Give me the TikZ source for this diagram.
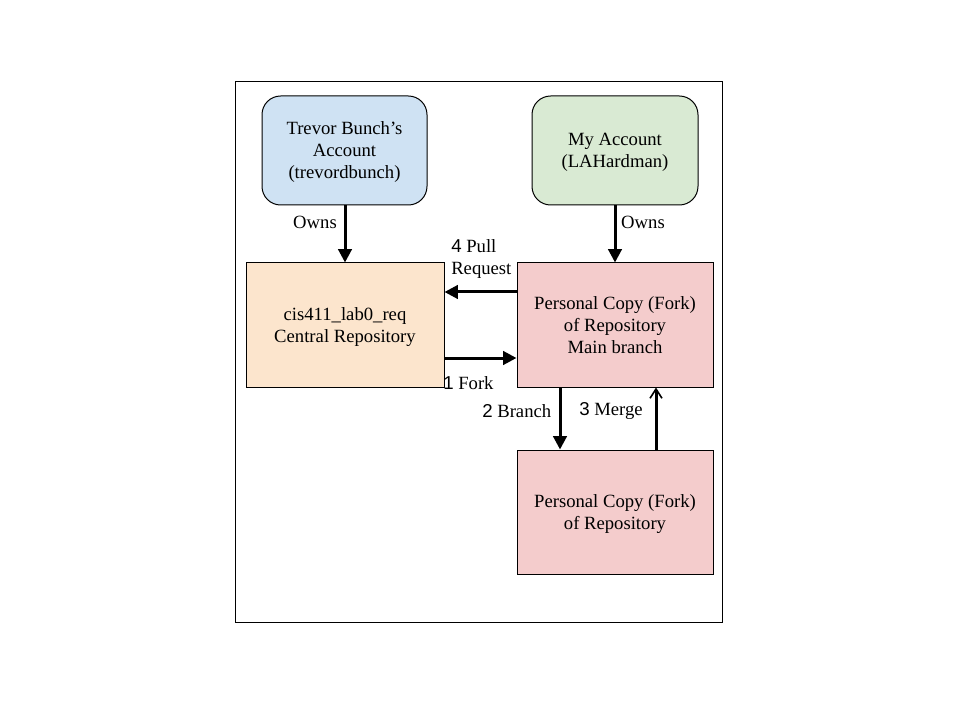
\documentclass[tikz,border=0pt]{standalone}
\usepackage{fontspec}
\setmainfont{Liberation Serif}
\newfontfamily\numfont{Liberation Sans}
\usetikzlibrary{arrows.meta}
\definecolor{cblue}{HTML}{CFE2F3}
\definecolor{cgreen}{HTML}{D9EAD3}
\definecolor{corange}{HTML}{FCE5CD}
\definecolor{cpink}{HTML}{F4CCCC}
\begin{document}
\begin{tikzpicture}[x=0.75pt,y=-0.75pt,
  box/.style={draw=black, line width=0.75pt, align=center, inner sep=0pt,
    font=\fontsize{14pt}{16.5pt}\selectfont},
  lbl/.style={inner sep=0pt, font=\fontsize{14pt}{16.5pt}\selectfont},
  conn/.style={line width=2.25pt, -{Triangle[length=10pt,width=10pt]}},
  connb/.style={line width=2.25pt, -{Straight Barb[length=7pt,width=9pt,line width=1.2pt]}}]
\useasboundingbox (0,0) rectangle (960,720);
\draw[line width=0.75pt] (235,82) rectangle (722,622);
\node[box, fill=cblue, rounded corners=14pt, minimum width=165*0.75pt, minimum height=109*0.75pt, text depth=-1.5pt] (trev) at (344.5,150.5) {Trevor Bunch’s\\Account\\(trevordbunch)};
\node[box, fill=cgreen, rounded corners=14pt, minimum width=166*0.75pt, minimum height=109*0.75pt, text depth=-1.5pt] (mine) at (615,150.5) {My Account\\(LAHardman)};
\node[box, fill=corange, minimum width=198*0.75pt, minimum height=124*0.75pt, text depth=-1.5pt] (central) at (345,325) {cis411\_lab0\_req\\Central Repository};
\node[box, fill=cpink, minimum width=196*0.75pt, minimum height=124*0.75pt, text depth=-1.5pt] (fork) at (615,325) {Personal Copy (Fork)\\of Repository\\Main branch};
\node[box, fill=cpink, minimum width=196*0.75pt, minimum height=124*0.75pt, text depth=-1.5pt] (branch) at (615,512) {Personal Copy (Fork)\\of Repository};
\draw[conn] (trev.south -| central.north) -- (central.north);
\draw[conn] (mine.south -| fork.north) -- (fork.north);
\coordinate (pr) at (fork.west |- 0,292);
\draw[conn] (pr) -- (central.east |- pr);
\coordinate (fk) at (central.east |- 0,358);
\draw[conn] (fk) -- (fork.west |- fk);
\coordinate (bs) at (560,387);
\draw[conn] (bs) -- (bs |- branch.north);
\coordinate (ms) at (656,450);
\draw[connb] (ms) -- (ms |- fork.south);
\node[lbl] (owns1) at (315,222) {Owns};
\node[lbl] (owns2) at (643,222) {Owns};
\node[lbl, anchor=west, align=left] (prl) at (451,259) {{\numfont 4} Pull\\Request};
\node[lbl, anchor=west] (fkl) at (443,383) {{\numfont 1} Fork};
\node[lbl, anchor=west] (brl) at (482,411) {{\numfont 2} Branch};
\node[lbl, anchor=west] (mgl) at (579,411) {{\numfont 3} Merge};
\end{tikzpicture}
\end{document}
